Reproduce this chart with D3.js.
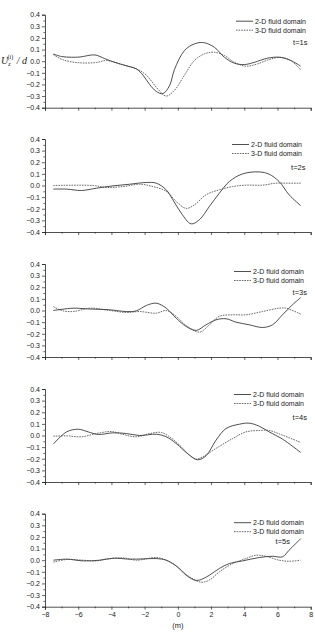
<!DOCTYPE html>
<html><head><meta charset="utf-8">
<script src="https://cdn.jsdelivr.net/npm/d3@7"></script>
<style>html,body{margin:0;padding:0;background:#fff;}svg{display:block;}</style>
</head><body>
<script>
// ---- data ----
const panelTimes = ["t=1s","t=2s","t=3s","t=4s","t=5s"];
const seriesNames = ["2-D fluid domain","3-D fluid domain"];
const xTickLabels = [-8,-6,-4,-2,0,2,4,6,8];
const yTickLabels = [0.4,0.3,0.2,0.1,0.0,-0.1,-0.2,-0.3,-0.4];

const p1_2D = [[-7.5,0.062],[-7.0,0.04],[-6.4,0.034],[-5.9,0.036],[-5.0,0.054],[-4.4,0.022],[-4.0,0.0],[-3.1,-0.04],[-2.5,-0.066],[-2.1,-0.12],[-1.7,-0.2],[-1.3,-0.26],[-0.9,-0.279],[-0.5,-0.21],[-0.2,-0.07],[0.4,0.092],[1.0,0.149],[1.55,0.16],[2.2,0.12],[2.8,0.034],[3.4,-0.017],[4.0,-0.029],[4.6,-0.01],[5.4,0.026],[6.1,0.034],[6.8,0.006],[7.4,-0.043]];
const p1_3D = [[-7.5,0.057],[-6.9,0.011],[-5.9,-0.014],[-4.9,-0.011],[-4.3,0.006],[-3.5,-0.023],[-2.5,-0.066],[-1.9,-0.12],[-1.2,-0.24],[-0.7,-0.3],[-0.2,-0.25],[0.4,-0.12],[1.0,0.006],[1.6,0.063],[2.2,0.077],[2.8,0.049],[3.4,-0.009],[4.1,-0.043],[4.8,-0.023],[5.5,0.014],[6.2,0.034],[6.8,0.006],[7.4,-0.075]];

const p2_2D = [[-7.5,-0.031],[-6.7,-0.031],[-5.8,-0.043],[-4.9,-0.023],[-3.9,-0.003],[-2.9,0.011],[-1.9,0.026],[-1.3,0.02],[-0.7,-0.037],[-0.3,-0.123],[0.2,-0.237],[0.8,-0.33],[1.3,-0.294],[1.9,-0.18],[2.5,-0.066],[3.1,0.034],[3.9,0.1],[4.9,0.117],[5.5,0.097],[6.1,0.034],[6.7,-0.08],[7.4,-0.174]];
const p2_3D = [[-7.5,0.0],[-5.1,0.0],[-4.3,-0.017],[-3.3,-0.009],[-2.3,0.011],[-1.5,-0.009],[-0.7,-0.05],[-0.1,-0.137],[0.5,-0.197],[1.0,-0.166],[1.7,-0.08],[2.5,-0.037],[3.3,-0.009],[4.1,0.003],[5.1,0.003],[5.9,0.02],[6.5,0.02],[7.4,0.02]];

const p3_2D = [[-7.5,0.0],[-6.3,0.02],[-5.5,0.014],[-4.1,0.006],[-3.1,-0.009],[-2.5,-0.003],[-1.9,0.043],[-1.3,0.063],[-0.7,0.02],[-0.1,-0.066],[0.5,-0.137],[1.1,-0.171],[1.7,-0.123],[2.3,-0.08],[2.9,-0.071],[3.5,-0.1],[4.3,-0.123],[5.1,-0.146],[5.7,-0.123],[6.3,-0.037],[6.9,0.049],[7.4,0.111]];
const p3_3D = [[-7.5,0.034],[-7.0,0.0],[-6.3,-0.009],[-5.3,0.02],[-4.1,0.0],[-3.1,-0.017],[-2.3,-0.009],[-1.3,-0.023],[-0.7,0.0],[-0.1,-0.05],[0.5,-0.129],[1.3,-0.186],[1.9,-0.123],[2.5,-0.05],[3.3,-0.037],[4.1,-0.037],[5.1,-0.009],[6.1,0.02],[6.5,0.02],[7.4,-0.031]];

const p4_2D = [[-7.5,-0.074],[-6.7,0.031],[-6.0,0.054],[-5.4,0.031],[-4.8,0.009],[-3.9,0.023],[-3.1,0.017],[-2.3,0.0],[-1.3,0.011],[-0.7,-0.011],[-0.1,-0.069],[0.7,-0.169],[1.2,-0.209],[1.7,-0.174],[2.3,-0.04],[2.9,0.06],[3.7,0.097],[4.3,0.106],[4.9,0.08],[5.5,0.031],[6.3,-0.031],[7.4,-0.146]];
const p4_3D = [[-7.5,-0.006],[-6.7,-0.003],[-5.8,-0.011],[-4.9,0.017],[-4.0,0.034],[-3.3,0.009],[-2.5,-0.011],[-1.7,0.017],[-1.0,0.026],[-0.5,-0.011],[0.1,-0.083],[0.7,-0.169],[1.1,-0.203],[1.5,-0.183],[2.3,-0.111],[3.3,-0.026],[4.1,0.031],[4.9,0.043],[5.5,0.043],[6.3,0.003],[7.4,-0.06]];

const p5_2D = [[-7.5,0.0],[-6.7,0.009],[-5.7,-0.006],[-4.7,0.0],[-3.9,0.017],[-2.9,0.009],[-2.1,0.011],[-1.3,0.014],[-0.7,0.0],[-0.1,-0.049],[0.5,-0.129],[1.0,-0.171],[1.3,-0.171],[1.9,-0.129],[2.5,-0.071],[3.1,-0.029],[3.9,-0.006],[4.9,0.023],[5.7,0.034],[6.3,0.029],[6.7,0.086],[7.1,0.143],[7.4,0.186]];
const p5_3D = [[-7.5,-0.017],[-6.7,0.006],[-5.7,0.0],[-4.9,-0.006],[-4.3,0.009],[-3.3,0.02],[-2.5,0.0],[-1.3,0.023],[-0.7,0.0],[-0.1,-0.049],[0.7,-0.143],[1.4,-0.189],[1.9,-0.171],[2.5,-0.1],[3.3,-0.029],[4.1,0.014],[4.7,0.043],[5.3,0.034],[6.1,0.0],[6.7,-0.009],[7.4,0.0]];

const panels2D = [p1_2D,p2_2D,p3_2D,p4_2D,p5_2D];
const panels3D = [p1_3D,p2_3D,p3_3D,p4_3D,p5_3D];

// ---- layout ----
const W = 315, H = 633;
const left = 45, right = 310.7;
const panelTops = [14.7, 139, 264, 389, 513.7];
const panelH = 93;
const legendX = [236, 232, 234, 234, 234];
const legendDy = [6.5, 5.5, 7.5, 5.5, 9];
const tRight = [307.5, 305.5, 307, 307, 290];

const svg = d3.select("body").append("svg").attr("width", W).attr("height", H)
  .style("font-family", "'Liberation Sans', Arial, sans-serif");

const x = d3.scaleLinear().domain([-8, 8]).range([left, right]);

panelTimes.forEach((tl, i) => {
  const top = panelTops[i];
  const y = d3.scaleLinear().domain([-0.4, 0.4]).range([top + panelH, top]);
  const g = svg.append("g");

  // y axis
  const ya = g.append("g").attr("transform", `translate(${left},0)`)
    .call(d3.axisLeft(y).tickValues(yTickLabels).tickSize(3).tickPadding(2).tickFormat(d3.format(".1f")));
  ya.selectAll("text").style("font-size", "7px").attr("fill", "#222");
  g.append("g").attr("transform", `translate(${left},0)`)
    .call(d3.axisLeft(y).tickValues(d3.range(-0.35, 0.4, 0.1)).tickSize(1.6).tickFormat(""))
    .select(".domain").remove();

  // x axis
  const xa = g.append("g").attr("transform", `translate(0,${top + panelH})`)
    .call(d3.axisBottom(x).tickValues(xTickLabels).tickSize(3).tickPadding(2)
      .tickFormat(i === 4 ? d3.format("d") : ""));
  xa.selectAll("text").style("font-size", "7px").attr("fill", "#222");
  g.append("g").attr("transform", `translate(0,${top + panelH})`)
    .call(d3.axisBottom(x).tickValues(d3.range(-7, 8, 2)).tickSize(1.6).tickFormat(""))
    .select(".domain").remove();
  g.selectAll(".domain").attr("stroke", "#222").attr("stroke-width", 0.8);
  g.selectAll(".tick line").attr("stroke", "#222").attr("stroke-width", 0.7);

  const line = d3.line().x(d => x(d[0])).y(d => y(d[1])).curve(d3.curveCatmullRom.alpha(0.5));
  g.append("path").datum(panels2D[i]).attr("d", line)
    .attr("fill", "none").attr("stroke", "#222").attr("stroke-width", 0.8);
  g.append("path").datum(panels3D[i]).attr("d", line)
    .attr("fill", "none").attr("stroke", "#444").attr("stroke-width", 0.8).attr("stroke-dasharray", "1.6,1");

  // legend
  const ly1 = top + legendDy[i], ly2 = ly1 + 9;
  const lx = legendX[i];
  g.append("line").attr("x1", lx).attr("x2", lx + 17).attr("y1", ly1).attr("y2", ly1)
    .attr("stroke", "#222").attr("stroke-width", 0.8);
  g.append("line").attr("x1", lx).attr("x2", lx + 17).attr("y1", ly2).attr("y2", ly2)
    .attr("stroke", "#444").attr("stroke-width", 0.8).attr("stroke-dasharray", "1.6,1");
  g.append("text").attr("x", lx + 19).attr("y", ly1 + 2.5).text(seriesNames[0]).style("font-size", "7px").attr("fill", "#222");
  g.append("text").attr("x", lx + 19).attr("y", ly2 + 2.5).text(seriesNames[1]).style("font-size", "7px").attr("fill", "#222");
  g.append("text").attr("x", tRight[i]).attr("y", top + 30.5).attr("text-anchor", "end")
    .text(tl).style("font-size", "7.5px").attr("fill", "#222");
});

// axis titles
svg.append("text").attr("x", x(0)).attr("y", 628).attr("text-anchor", "middle")
  .style("font-size", "7.5px").attr("fill", "#222").text("(m)");

const yl = svg.append("text").attr("x", 1).attr("y", 64)
  .style("font-family", "'Liberation Serif', 'Times New Roman', serif").style("font-style", "italic")
  .style("font-size", "10px").attr("fill", "#222");
yl.append("tspan").text("U");
yl.append("tspan").attr("dy", 2).style("font-size", "6px").text("z");
yl.append("tspan").attr("dx", -3).attr("dy", -7).style("font-size", "6px").style("font-style", "normal").text("(i)");
yl.append("tspan").attr("dy", 5).attr("dx", 1).text(" / d");
</script>
</body></html>
